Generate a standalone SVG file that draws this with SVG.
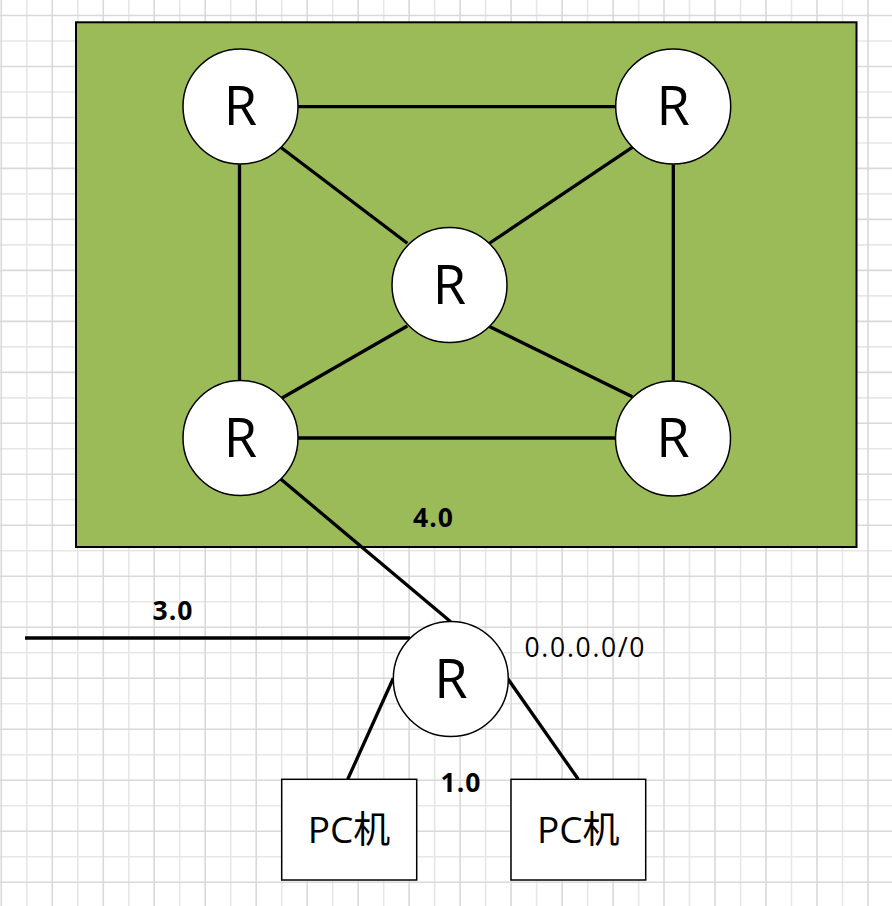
<svg xmlns="http://www.w3.org/2000/svg" width="892" height="906" viewBox="0 0 892 906">
<style>
.gd{stroke:#d9d9d9;stroke-width:1.6;fill:none}
.gl{stroke:#e7e7e7;stroke-width:1.6;fill:none}
.router circle{fill:#ffffff;stroke:#000000;stroke-width:1.5}
.router text{font-family:"Open Sans","Noto Sans",sans-serif;font-size:54px;fill:#000000;text-anchor:middle}
.pc rect{fill:#ffffff;stroke:#000000;stroke-width:1.5}
.pc text{font-family:"Open Sans","Noto Sans CJK SC",sans-serif;font-size:37px;fill:#000000;text-anchor:middle}
.link{stroke:#000000;stroke-width:3.3;fill:none}
.lbl{font-family:"Open Sans","Noto Sans",sans-serif;font-size:26.5px;font-weight:bold;fill:#000000;text-anchor:middle}
.lblr{font-family:"Open Sans","Noto Sans",sans-serif;font-size:26.5px;fill:#000000}
</style>
<rect x="0" y="0" width="892" height="906" fill="#ffffff"/>
<g id="grid">
<path class="gl" d="M26.8 0V906M77.8 0V906M128.8 0V906M179.7 0V906M230.7 0V906M281.7 0V906M332.7 0V906M383.7 0V906M434.6 0V906M485.6 0V906M536.6 0V906M587.6 0V906M638.6 0V906M689.5 0V906M740.5 0V906M791.5 0V906M842.5 0V906"/>
<path class="gl" d="M0 41H892M0 92H892M0 143H892M0 193.9H892M0 244.9H892M0 295.9H892M0 346.9H892M0 397.9H892M0 448.8H892M0 499.8H892M0 550.8H892M0 601.8H892M0 652.8H892M0 703.7H892M0 754.7H892M0 805.7H892M0 856.7H892"/>
<path class="gd" d="M1.3 0V906M52.3 0V906M103.3 0V906M154.2 0V906M205.2 0V906M256.2 0V906M307.2 0V906M358.2 0V906M409.1 0V906M460.1 0V906M511.1 0V906M562.1 0V906M613.1 0V906M664 0V906M715 0V906M766 0V906M817 0V906M868 0V906"/>
<path class="gd" d="M0 15.5H892M0 66.5H892M0 117.5H892M0 168.4H892M0 219.4H892M0 270.4H892M0 321.4H892M0 372.4H892M0 423.3H892M0 474.3H892M0 525.3H892M0 576.3H892M0 627.3H892M0 678.2H892M0 729.2H892M0 780.2H892M0 831.2H892M0 882.2H892"/>
</g>
<g id="area">
<rect x="76" y="22.3" width="780.5" height="524.7" fill="#9bbb59" stroke="#000000" stroke-width="2"/>
</g>
<g id="connectors">
<line class="link" x1="297.5" y1="106.7" x2="615.5" y2="106.7"/>
<line class="link" x1="239.5" y1="164.5" x2="239.5" y2="380.5"/>
<line class="link" x1="673.3" y1="164.5" x2="673.3" y2="380.5"/>
<line class="link" x1="297.5" y1="438" x2="615.5" y2="438"/>
<line class="link" x1="280" y1="146.7" x2="407.3" y2="243.3"/>
<line class="link" x1="633.3" y1="146.7" x2="488.3" y2="244"/>
<line class="link" x1="407.3" y1="326" x2="282" y2="398"/>
<line class="link" x1="488.3" y1="326" x2="632.3" y2="396.7"/>
<line class="link" x1="280.7" y1="479" x2="450.7" y2="621.7"/>
<line class="link" x1="25" y1="638" x2="410" y2="638" stroke-width="4"/>
<line class="link" x1="393.3" y1="678.3" x2="347.7" y2="779.3"/>
<line class="link" x1="507.5" y1="678.3" x2="578.3" y2="779.3"/>
<text class="lbl" x="433" y="527" textLength="40" lengthAdjust="spacing">4.0</text>
<text class="lbl" x="172.5" y="620" textLength="40" lengthAdjust="spacing">3.0</text>
<text class="lbl" x="460.5" y="792" textLength="40" lengthAdjust="spacing">1.0</text>
<text class="lblr" x="524.5" y="657" textLength="120" lengthAdjust="spacing">0.0.0.0/0</text>
</g>
<g id="router-tl" class="router"><circle cx="240.5" cy="106.5" r="57.5"/><text x="240.5" y="125">R</text></g>
<g id="router-tr" class="router"><circle cx="673.2" cy="106.5" r="57.5"/><text x="673.2" y="125">R</text></g>
<g id="router-c" class="router"><circle cx="449.5" cy="285" r="57.5"/><text x="449.5" y="303.5">R</text></g>
<g id="router-bl" class="router"><circle cx="240.5" cy="438" r="57.5"/><text x="240.5" y="456.5">R</text></g>
<g id="router-br" class="router"><circle cx="673" cy="438.5" r="57.5"/><text x="673" y="457">R</text></g>
<g id="router-edge" class="router"><circle cx="450.8" cy="679" r="57.5"/><text x="450.8" y="697.5">R</text></g>
<g id="pc-left" class="pc"><rect x="281.7" y="779.3" width="135" height="100.7"/><text x="349" y="843.3">PC机</text></g>
<g id="pc-right" class="pc"><rect x="511" y="779.3" width="134.7" height="100.7"/><text x="578.3" y="843.3">PC机</text></g>
</svg>
